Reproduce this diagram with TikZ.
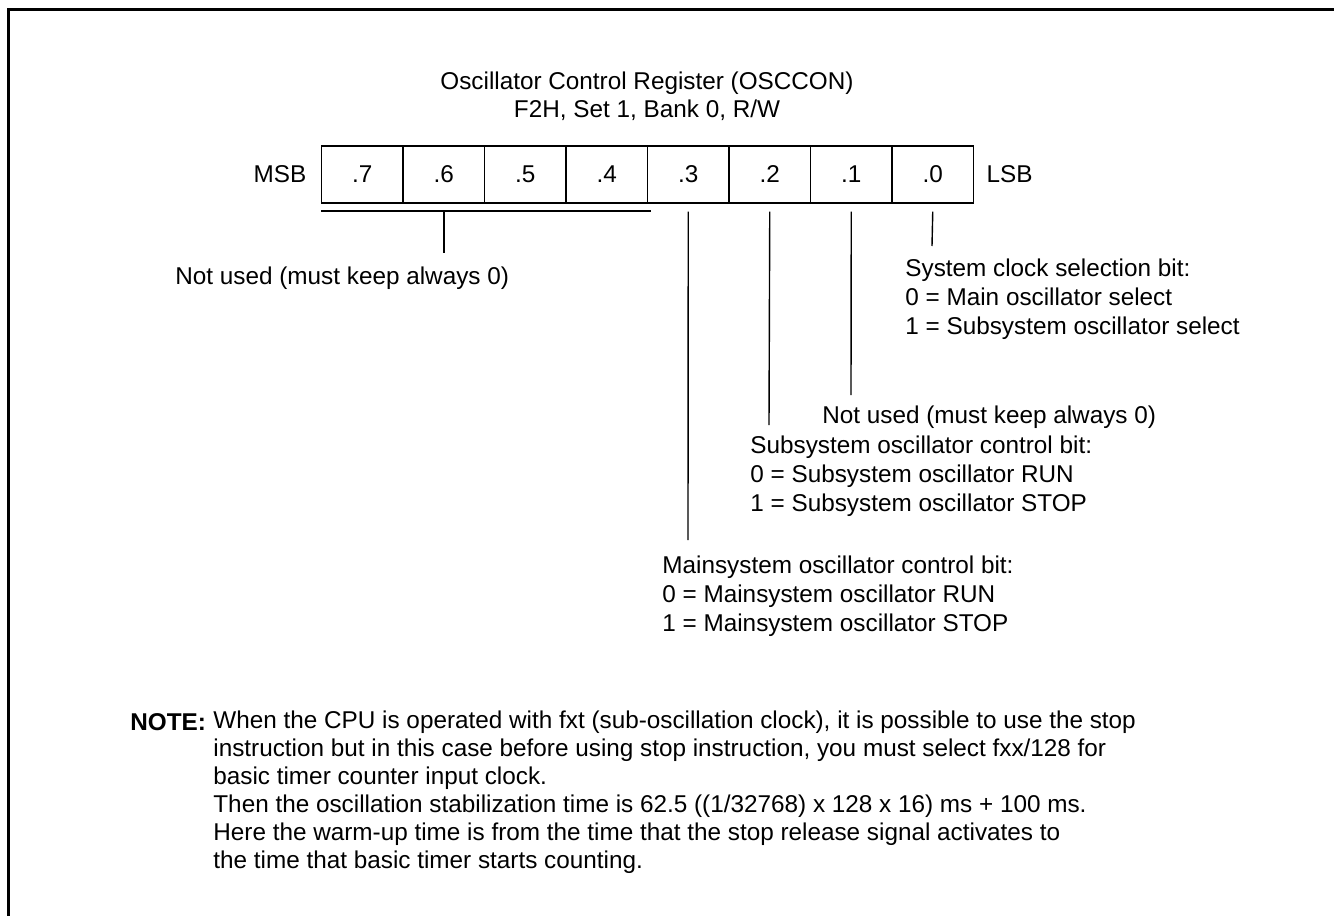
\documentclass[tikz,border=0pt]{standalone}
\usepackage{fontspec}
\setmainfont{Liberation Sans}
\usetikzlibrary{positioning, calc}
\newcommand{\regfont}{\fontsize{12.15pt}{14.5pt}\selectfont}
\newcommand{\notefont}{\fontsize{12.15pt}{14pt}\selectfont}
\tikzset{
  cell/.style={rectangle, draw, line width=0.7pt, minimum width=40.75pt,
    minimum height=28.5pt, inner sep=0pt, font=\regfont},
  lbl/.style={inner sep=0pt, font=\regfont},
  desc/.style={anchor=west, align=left, inner sep=0pt, font=\regfont},
  notetxt/.style={anchor=west, align=left, inner sep=0pt, font=\notefont},
  rule/.style={line width=0.7pt},
  frame/.style={line width=1.5pt}
}

\begin{document}
\begin{tikzpicture}[x=0.5pt, y=-0.5pt]
  \useasboundingbox (0,0) rectangle (1334,916);
  \draw[frame] (8,916) -- (8,9) -- (1334,9);
  % title
  \node[lbl] (title) at (647,83) {Oscillator Control Register (OSCCON)};
  \node[lbl] (addr) at (647,110) {F2H, Set 1, Bank 0, R/W};
  % register bits
  \foreach \b [count=\i from 0] in {7,...,0}
    \node[cell] (b\b) at (362.25+81.5*\i,174.5) {.\b};
  \node[lbl, left=7pt of b7] (msb) {MSB};
  \node[lbl, right=6pt of b0] (lsb) {LSB};
  % unused bits .7-.4
  \coordinate (u7) at (321,211);
  \coordinate (u4) at (651,211);
  \coordinate (ut) at (444,211);
  \coordinate (ue) at (444,253);
  \draw[rule] (u7) -- (u4);
  \draw[rule] (ut) -- (ue);
  \node[desc] (d7) at (175,278) {Not used (must keep always 0)};
  % bit lines
  \coordinate (e0) at (932,246);
  \coordinate (e1) at (851,395);
  \coordinate (e2) at (769,425);
  \coordinate (e3) at (688,540);
  \foreach \b in {0,...,3}
    \draw[rule] ([yshift=-4pt]b\b.south) -- (e\b);
  \node[desc] (d0) at (905,299) {System clock selection bit:\\0 = Main oscillator select\\1 = Subsystem oscillator select};
  \node[desc] (d1) at (822,417) {Not used (must keep always 0)};
  \node[desc] (d2) at (750,476) {Subsystem oscillator control bit:\\0 = Subsystem oscillator RUN\\1 = Subsystem oscillator STOP};
  \node[desc] (d3) at (662,596) {Mainsystem oscillator control bit:\\0 = Mainsystem oscillator RUN\\1 = Mainsystem oscillator STOP};
  % note
  \node[lbl, anchor=west, font=\regfont\bfseries] (nh) at (130,722) {NOTE:};
  \node[notetxt] (note) at (213,792) {When the CPU is operated with fxt (sub-oscillation clock), it is possible to use the stop\\
    instruction but in this case before using stop instruction, you must select fxx/128 for\\
    basic timer counter input clock.\\
    Then the oscillation stabilization time is 62.5 ((1/32768) x 128 x 16) ms + 100 ms.\\
    Here the warm-up time is from the time that the stop release signal activates to\\
    the time that basic timer starts counting.};
\end{tikzpicture}
\end{document}
